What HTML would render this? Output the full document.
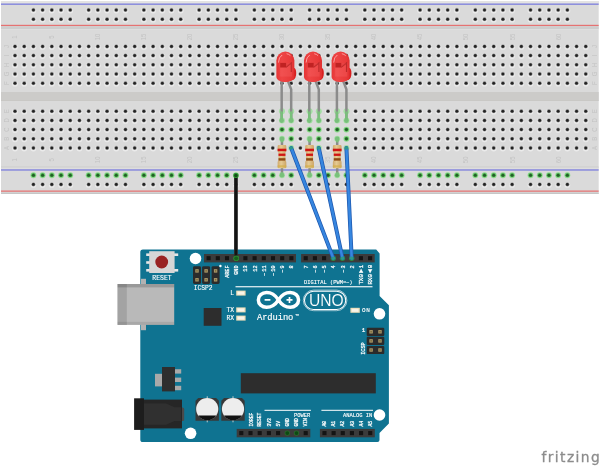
<!DOCTYPE html>
<html lang="en"><head><meta charset="utf-8"><title>Arduino LED breadboard</title>
<style>
html,body{margin:0;padding:0;background:#fff;}
body{width:600px;height:467px;overflow:hidden;}
svg{display:block;filter:blur(0.45px);}
.mono{font-family:"Liberation Mono","DejaVu Sans Mono",monospace;}
.sans{font-family:"Liberation Sans","DejaVu Sans",sans-serif;}
.bl{font-family:"Liberation Sans","DejaVu Sans",sans-serif;font-size:7.0px;fill:#c3c3c3;}
.pl{font-family:"Liberation Mono","DejaVu Sans Mono",monospace;font-size:5.9px;fill:#fff;stroke:#fff;stroke-width:0.24px;}
</style></head><body>
<svg width="600" height="467" viewBox="0 0 600 467">
<defs>
<g id="h"><circle cy="0.5" r="2.9" fill="#ebebeb"/><circle cy="-0.2" r="2.2" fill="#bdbdbd"/><circle cy="0" r="1.75" fill="#6a6a6a"/><circle cy="0" r="1.3" fill="#222222"/></g>
<g id="g"><circle r="2.95" fill="#8fdc8f"/><circle r="2.15" fill="#52b055"/><circle r="1.5" fill="#235f27"/></g>
<g id="o"><circle r="3.0" fill="#a4e0a4"/></g>
<linearGradient id="ledg" x1="0" x2="1" y1="0" y2="0"><stop offset="0" stop-color="#e63636"/><stop offset="0.3" stop-color="#ee4545"/><stop offset="0.8" stop-color="#e83a3a"/><stop offset="1" stop-color="#e03030"/></linearGradient>
<linearGradient id="resg" x1="0" x2="1" y1="0" y2="0"><stop offset="0" stop-color="#cfa96c"/><stop offset="0.4" stop-color="#e6cb93"/><stop offset="1" stop-color="#cda566"/></linearGradient>
</defs>
<rect width="600" height="467" fill="#ffffff"/>
<g id="breadboard">
<rect x="1" y="1.0" width="597.7" height="193.0" fill="#dadada"/>
<rect x="1" y="1.0" width="597.7" height="2.4" fill="#e3e3e3"/>
<rect x="1" y="192.6" width="597.7" height="1.4" fill="#c6c6c6"/>
<rect x="1" y="26.4" width="597.7" height="2.6" fill="#cdcdcd"/>
<rect x="1" y="29.0" width="597.7" height="0.7" fill="#e0e0e0"/>
<rect x="1" y="166.7" width="597.7" height="0.9" fill="#c4c4c4"/>
<rect x="1" y="167.6" width="597.7" height="0.7" fill="#e3e3e3"/>
<rect x="1" y="92.0" width="597.7" height="8.8" fill="#cccbc9"/>
<rect x="1" y="100.3" width="597.7" height="0.6" fill="#c4c4c2"/>
<rect x="1" y="3.5" width="597.7" height="1.35" fill="#8082de"/>
<rect x="1" y="24.8" width="597.7" height="1.25" fill="#e57272"/>
<rect x="1" y="169.3" width="597.7" height="1.35" fill="#8082de"/>
<rect x="1" y="190.5" width="597.7" height="1.25" fill="#e57272"/>
<text class="bl" transform="translate(17.40,37.0) rotate(-90) scale(0.86,1)" text-anchor="middle">1</text>
<text class="bl" transform="translate(17.40,159.8) rotate(-90) scale(0.86,1)" text-anchor="middle">1</text>
<text class="bl" transform="translate(54.22,37.0) rotate(-90) scale(0.86,1)" text-anchor="middle">5</text>
<text class="bl" transform="translate(54.22,159.8) rotate(-90) scale(0.86,1)" text-anchor="middle">5</text>
<text class="bl" transform="translate(100.25,37.0) rotate(-90) scale(0.86,1)" text-anchor="middle">10</text>
<text class="bl" transform="translate(100.25,159.8) rotate(-90) scale(0.86,1)" text-anchor="middle">10</text>
<text class="bl" transform="translate(146.28,37.0) rotate(-90) scale(0.86,1)" text-anchor="middle">15</text>
<text class="bl" transform="translate(146.28,159.8) rotate(-90) scale(0.86,1)" text-anchor="middle">15</text>
<text class="bl" transform="translate(192.31,37.0) rotate(-90) scale(0.86,1)" text-anchor="middle">20</text>
<text class="bl" transform="translate(192.31,159.8) rotate(-90) scale(0.86,1)" text-anchor="middle">20</text>
<text class="bl" transform="translate(238.34,37.0) rotate(-90) scale(0.86,1)" text-anchor="middle">25</text>
<text class="bl" transform="translate(238.34,159.8) rotate(-90) scale(0.86,1)" text-anchor="middle">25</text>
<text class="bl" transform="translate(284.37,37.0) rotate(-90) scale(0.86,1)" text-anchor="middle">30</text>
<text class="bl" transform="translate(284.37,159.8) rotate(-90) scale(0.86,1)" text-anchor="middle">30</text>
<text class="bl" transform="translate(330.40,37.0) rotate(-90) scale(0.86,1)" text-anchor="middle">35</text>
<text class="bl" transform="translate(330.40,159.8) rotate(-90) scale(0.86,1)" text-anchor="middle">35</text>
<text class="bl" transform="translate(376.43,37.0) rotate(-90) scale(0.86,1)" text-anchor="middle">40</text>
<text class="bl" transform="translate(376.43,159.8) rotate(-90) scale(0.86,1)" text-anchor="middle">40</text>
<text class="bl" transform="translate(422.46,37.0) rotate(-90) scale(0.86,1)" text-anchor="middle">45</text>
<text class="bl" transform="translate(422.46,159.8) rotate(-90) scale(0.86,1)" text-anchor="middle">45</text>
<text class="bl" transform="translate(468.49,37.0) rotate(-90) scale(0.86,1)" text-anchor="middle">50</text>
<text class="bl" transform="translate(468.49,159.8) rotate(-90) scale(0.86,1)" text-anchor="middle">50</text>
<text class="bl" transform="translate(514.52,37.0) rotate(-90) scale(0.86,1)" text-anchor="middle">55</text>
<text class="bl" transform="translate(514.52,159.8) rotate(-90) scale(0.86,1)" text-anchor="middle">55</text>
<text class="bl" transform="translate(560.55,37.0) rotate(-90) scale(0.86,1)" text-anchor="middle">60</text>
<text class="bl" transform="translate(560.55,159.8) rotate(-90) scale(0.86,1)" text-anchor="middle">60</text>
<text class="bl" transform="translate(9.3,46.4) rotate(-90) scale(0.86,1)" text-anchor="middle">J</text>
<text class="bl" transform="translate(597.0,46.4) rotate(-90) scale(0.86,1)" text-anchor="middle">J</text>
<text class="bl" transform="translate(9.3,55.6) rotate(-90) scale(0.86,1)" text-anchor="middle">I</text>
<text class="bl" transform="translate(597.0,55.6) rotate(-90) scale(0.86,1)" text-anchor="middle">I</text>
<text class="bl" transform="translate(9.3,64.8) rotate(-90) scale(0.86,1)" text-anchor="middle">H</text>
<text class="bl" transform="translate(597.0,64.8) rotate(-90) scale(0.86,1)" text-anchor="middle">H</text>
<text class="bl" transform="translate(9.3,74.0) rotate(-90) scale(0.86,1)" text-anchor="middle">G</text>
<text class="bl" transform="translate(597.0,74.0) rotate(-90) scale(0.86,1)" text-anchor="middle">G</text>
<text class="bl" transform="translate(9.3,83.2) rotate(-90) scale(0.86,1)" text-anchor="middle">F</text>
<text class="bl" transform="translate(597.0,83.2) rotate(-90) scale(0.86,1)" text-anchor="middle">F</text>
<text class="bl" transform="translate(9.3,111.2) rotate(-90) scale(0.86,1)" text-anchor="middle">E</text>
<text class="bl" transform="translate(597.0,111.2) rotate(-90) scale(0.86,1)" text-anchor="middle">E</text>
<text class="bl" transform="translate(9.3,120.4) rotate(-90) scale(0.86,1)" text-anchor="middle">D</text>
<text class="bl" transform="translate(597.0,120.4) rotate(-90) scale(0.86,1)" text-anchor="middle">D</text>
<text class="bl" transform="translate(9.3,129.6) rotate(-90) scale(0.86,1)" text-anchor="middle">C</text>
<text class="bl" transform="translate(597.0,129.6) rotate(-90) scale(0.86,1)" text-anchor="middle">C</text>
<text class="bl" transform="translate(9.3,138.8) rotate(-90) scale(0.86,1)" text-anchor="middle">B</text>
<text class="bl" transform="translate(597.0,138.8) rotate(-90) scale(0.86,1)" text-anchor="middle">B</text>
<text class="bl" transform="translate(9.3,148.0) rotate(-90) scale(0.86,1)" text-anchor="middle">A</text>
<text class="bl" transform="translate(597.0,148.0) rotate(-90) scale(0.86,1)" text-anchor="middle">A</text>
<use href="#h" x="15.00" y="46.4"/>
<use href="#h" x="24.21" y="46.4"/>
<use href="#h" x="33.41" y="46.4"/>
<use href="#h" x="42.62" y="46.4"/>
<use href="#h" x="51.82" y="46.4"/>
<use href="#h" x="61.03" y="46.4"/>
<use href="#h" x="70.24" y="46.4"/>
<use href="#h" x="79.44" y="46.4"/>
<use href="#h" x="88.65" y="46.4"/>
<use href="#h" x="97.85" y="46.4"/>
<use href="#h" x="107.06" y="46.4"/>
<use href="#h" x="116.27" y="46.4"/>
<use href="#h" x="125.47" y="46.4"/>
<use href="#h" x="134.68" y="46.4"/>
<use href="#h" x="143.88" y="46.4"/>
<use href="#h" x="153.09" y="46.4"/>
<use href="#h" x="162.30" y="46.4"/>
<use href="#h" x="171.50" y="46.4"/>
<use href="#h" x="180.71" y="46.4"/>
<use href="#h" x="189.91" y="46.4"/>
<use href="#h" x="199.12" y="46.4"/>
<use href="#h" x="208.33" y="46.4"/>
<use href="#h" x="217.53" y="46.4"/>
<use href="#h" x="226.74" y="46.4"/>
<use href="#h" x="235.94" y="46.4"/>
<use href="#h" x="245.15" y="46.4"/>
<use href="#h" x="254.36" y="46.4"/>
<use href="#h" x="263.56" y="46.4"/>
<use href="#h" x="272.77" y="46.4"/>
<use href="#h" x="281.97" y="46.4"/>
<use href="#h" x="291.18" y="46.4"/>
<use href="#h" x="300.39" y="46.4"/>
<use href="#h" x="309.59" y="46.4"/>
<use href="#h" x="318.80" y="46.4"/>
<use href="#h" x="328.00" y="46.4"/>
<use href="#h" x="337.21" y="46.4"/>
<use href="#h" x="346.42" y="46.4"/>
<use href="#h" x="355.62" y="46.4"/>
<use href="#h" x="364.83" y="46.4"/>
<use href="#h" x="374.03" y="46.4"/>
<use href="#h" x="383.24" y="46.4"/>
<use href="#h" x="392.45" y="46.4"/>
<use href="#h" x="401.65" y="46.4"/>
<use href="#h" x="410.86" y="46.4"/>
<use href="#h" x="420.06" y="46.4"/>
<use href="#h" x="429.27" y="46.4"/>
<use href="#h" x="438.48" y="46.4"/>
<use href="#h" x="447.68" y="46.4"/>
<use href="#h" x="456.89" y="46.4"/>
<use href="#h" x="466.09" y="46.4"/>
<use href="#h" x="475.30" y="46.4"/>
<use href="#h" x="484.51" y="46.4"/>
<use href="#h" x="493.71" y="46.4"/>
<use href="#h" x="502.92" y="46.4"/>
<use href="#h" x="512.12" y="46.4"/>
<use href="#h" x="521.33" y="46.4"/>
<use href="#h" x="530.54" y="46.4"/>
<use href="#h" x="539.74" y="46.4"/>
<use href="#h" x="548.95" y="46.4"/>
<use href="#h" x="558.15" y="46.4"/>
<use href="#h" x="567.36" y="46.4"/>
<use href="#h" x="576.57" y="46.4"/>
<use href="#h" x="585.77" y="46.4"/>
<use href="#h" x="15.00" y="55.6"/>
<use href="#h" x="24.21" y="55.6"/>
<use href="#h" x="33.41" y="55.6"/>
<use href="#h" x="42.62" y="55.6"/>
<use href="#h" x="51.82" y="55.6"/>
<use href="#h" x="61.03" y="55.6"/>
<use href="#h" x="70.24" y="55.6"/>
<use href="#h" x="79.44" y="55.6"/>
<use href="#h" x="88.65" y="55.6"/>
<use href="#h" x="97.85" y="55.6"/>
<use href="#h" x="107.06" y="55.6"/>
<use href="#h" x="116.27" y="55.6"/>
<use href="#h" x="125.47" y="55.6"/>
<use href="#h" x="134.68" y="55.6"/>
<use href="#h" x="143.88" y="55.6"/>
<use href="#h" x="153.09" y="55.6"/>
<use href="#h" x="162.30" y="55.6"/>
<use href="#h" x="171.50" y="55.6"/>
<use href="#h" x="180.71" y="55.6"/>
<use href="#h" x="189.91" y="55.6"/>
<use href="#h" x="199.12" y="55.6"/>
<use href="#h" x="208.33" y="55.6"/>
<use href="#h" x="217.53" y="55.6"/>
<use href="#h" x="226.74" y="55.6"/>
<use href="#h" x="235.94" y="55.6"/>
<use href="#h" x="245.15" y="55.6"/>
<use href="#h" x="254.36" y="55.6"/>
<use href="#h" x="263.56" y="55.6"/>
<use href="#h" x="272.77" y="55.6"/>
<use href="#h" x="281.97" y="55.6"/>
<use href="#h" x="291.18" y="55.6"/>
<use href="#h" x="300.39" y="55.6"/>
<use href="#h" x="309.59" y="55.6"/>
<use href="#h" x="318.80" y="55.6"/>
<use href="#h" x="328.00" y="55.6"/>
<use href="#h" x="337.21" y="55.6"/>
<use href="#h" x="346.42" y="55.6"/>
<use href="#h" x="355.62" y="55.6"/>
<use href="#h" x="364.83" y="55.6"/>
<use href="#h" x="374.03" y="55.6"/>
<use href="#h" x="383.24" y="55.6"/>
<use href="#h" x="392.45" y="55.6"/>
<use href="#h" x="401.65" y="55.6"/>
<use href="#h" x="410.86" y="55.6"/>
<use href="#h" x="420.06" y="55.6"/>
<use href="#h" x="429.27" y="55.6"/>
<use href="#h" x="438.48" y="55.6"/>
<use href="#h" x="447.68" y="55.6"/>
<use href="#h" x="456.89" y="55.6"/>
<use href="#h" x="466.09" y="55.6"/>
<use href="#h" x="475.30" y="55.6"/>
<use href="#h" x="484.51" y="55.6"/>
<use href="#h" x="493.71" y="55.6"/>
<use href="#h" x="502.92" y="55.6"/>
<use href="#h" x="512.12" y="55.6"/>
<use href="#h" x="521.33" y="55.6"/>
<use href="#h" x="530.54" y="55.6"/>
<use href="#h" x="539.74" y="55.6"/>
<use href="#h" x="548.95" y="55.6"/>
<use href="#h" x="558.15" y="55.6"/>
<use href="#h" x="567.36" y="55.6"/>
<use href="#h" x="576.57" y="55.6"/>
<use href="#h" x="585.77" y="55.6"/>
<use href="#h" x="15.00" y="64.8"/>
<use href="#h" x="24.21" y="64.8"/>
<use href="#h" x="33.41" y="64.8"/>
<use href="#h" x="42.62" y="64.8"/>
<use href="#h" x="51.82" y="64.8"/>
<use href="#h" x="61.03" y="64.8"/>
<use href="#h" x="70.24" y="64.8"/>
<use href="#h" x="79.44" y="64.8"/>
<use href="#h" x="88.65" y="64.8"/>
<use href="#h" x="97.85" y="64.8"/>
<use href="#h" x="107.06" y="64.8"/>
<use href="#h" x="116.27" y="64.8"/>
<use href="#h" x="125.47" y="64.8"/>
<use href="#h" x="134.68" y="64.8"/>
<use href="#h" x="143.88" y="64.8"/>
<use href="#h" x="153.09" y="64.8"/>
<use href="#h" x="162.30" y="64.8"/>
<use href="#h" x="171.50" y="64.8"/>
<use href="#h" x="180.71" y="64.8"/>
<use href="#h" x="189.91" y="64.8"/>
<use href="#h" x="199.12" y="64.8"/>
<use href="#h" x="208.33" y="64.8"/>
<use href="#h" x="217.53" y="64.8"/>
<use href="#h" x="226.74" y="64.8"/>
<use href="#h" x="235.94" y="64.8"/>
<use href="#h" x="245.15" y="64.8"/>
<use href="#h" x="254.36" y="64.8"/>
<use href="#h" x="263.56" y="64.8"/>
<use href="#h" x="272.77" y="64.8"/>
<use href="#h" x="281.97" y="64.8"/>
<use href="#h" x="291.18" y="64.8"/>
<use href="#h" x="300.39" y="64.8"/>
<use href="#h" x="309.59" y="64.8"/>
<use href="#h" x="318.80" y="64.8"/>
<use href="#h" x="328.00" y="64.8"/>
<use href="#h" x="337.21" y="64.8"/>
<use href="#h" x="346.42" y="64.8"/>
<use href="#h" x="355.62" y="64.8"/>
<use href="#h" x="364.83" y="64.8"/>
<use href="#h" x="374.03" y="64.8"/>
<use href="#h" x="383.24" y="64.8"/>
<use href="#h" x="392.45" y="64.8"/>
<use href="#h" x="401.65" y="64.8"/>
<use href="#h" x="410.86" y="64.8"/>
<use href="#h" x="420.06" y="64.8"/>
<use href="#h" x="429.27" y="64.8"/>
<use href="#h" x="438.48" y="64.8"/>
<use href="#h" x="447.68" y="64.8"/>
<use href="#h" x="456.89" y="64.8"/>
<use href="#h" x="466.09" y="64.8"/>
<use href="#h" x="475.30" y="64.8"/>
<use href="#h" x="484.51" y="64.8"/>
<use href="#h" x="493.71" y="64.8"/>
<use href="#h" x="502.92" y="64.8"/>
<use href="#h" x="512.12" y="64.8"/>
<use href="#h" x="521.33" y="64.8"/>
<use href="#h" x="530.54" y="64.8"/>
<use href="#h" x="539.74" y="64.8"/>
<use href="#h" x="548.95" y="64.8"/>
<use href="#h" x="558.15" y="64.8"/>
<use href="#h" x="567.36" y="64.8"/>
<use href="#h" x="576.57" y="64.8"/>
<use href="#h" x="585.77" y="64.8"/>
<use href="#h" x="15.00" y="74.0"/>
<use href="#h" x="24.21" y="74.0"/>
<use href="#h" x="33.41" y="74.0"/>
<use href="#h" x="42.62" y="74.0"/>
<use href="#h" x="51.82" y="74.0"/>
<use href="#h" x="61.03" y="74.0"/>
<use href="#h" x="70.24" y="74.0"/>
<use href="#h" x="79.44" y="74.0"/>
<use href="#h" x="88.65" y="74.0"/>
<use href="#h" x="97.85" y="74.0"/>
<use href="#h" x="107.06" y="74.0"/>
<use href="#h" x="116.27" y="74.0"/>
<use href="#h" x="125.47" y="74.0"/>
<use href="#h" x="134.68" y="74.0"/>
<use href="#h" x="143.88" y="74.0"/>
<use href="#h" x="153.09" y="74.0"/>
<use href="#h" x="162.30" y="74.0"/>
<use href="#h" x="171.50" y="74.0"/>
<use href="#h" x="180.71" y="74.0"/>
<use href="#h" x="189.91" y="74.0"/>
<use href="#h" x="199.12" y="74.0"/>
<use href="#h" x="208.33" y="74.0"/>
<use href="#h" x="217.53" y="74.0"/>
<use href="#h" x="226.74" y="74.0"/>
<use href="#h" x="235.94" y="74.0"/>
<use href="#h" x="245.15" y="74.0"/>
<use href="#h" x="254.36" y="74.0"/>
<use href="#h" x="263.56" y="74.0"/>
<use href="#h" x="272.77" y="74.0"/>
<use href="#h" x="281.97" y="74.0"/>
<use href="#h" x="291.18" y="74.0"/>
<use href="#h" x="300.39" y="74.0"/>
<use href="#h" x="309.59" y="74.0"/>
<use href="#h" x="318.80" y="74.0"/>
<use href="#h" x="328.00" y="74.0"/>
<use href="#h" x="337.21" y="74.0"/>
<use href="#h" x="346.42" y="74.0"/>
<use href="#h" x="355.62" y="74.0"/>
<use href="#h" x="364.83" y="74.0"/>
<use href="#h" x="374.03" y="74.0"/>
<use href="#h" x="383.24" y="74.0"/>
<use href="#h" x="392.45" y="74.0"/>
<use href="#h" x="401.65" y="74.0"/>
<use href="#h" x="410.86" y="74.0"/>
<use href="#h" x="420.06" y="74.0"/>
<use href="#h" x="429.27" y="74.0"/>
<use href="#h" x="438.48" y="74.0"/>
<use href="#h" x="447.68" y="74.0"/>
<use href="#h" x="456.89" y="74.0"/>
<use href="#h" x="466.09" y="74.0"/>
<use href="#h" x="475.30" y="74.0"/>
<use href="#h" x="484.51" y="74.0"/>
<use href="#h" x="493.71" y="74.0"/>
<use href="#h" x="502.92" y="74.0"/>
<use href="#h" x="512.12" y="74.0"/>
<use href="#h" x="521.33" y="74.0"/>
<use href="#h" x="530.54" y="74.0"/>
<use href="#h" x="539.74" y="74.0"/>
<use href="#h" x="548.95" y="74.0"/>
<use href="#h" x="558.15" y="74.0"/>
<use href="#h" x="567.36" y="74.0"/>
<use href="#h" x="576.57" y="74.0"/>
<use href="#h" x="585.77" y="74.0"/>
<use href="#h" x="15.00" y="83.2"/>
<use href="#h" x="24.21" y="83.2"/>
<use href="#h" x="33.41" y="83.2"/>
<use href="#h" x="42.62" y="83.2"/>
<use href="#h" x="51.82" y="83.2"/>
<use href="#h" x="61.03" y="83.2"/>
<use href="#h" x="70.24" y="83.2"/>
<use href="#h" x="79.44" y="83.2"/>
<use href="#h" x="88.65" y="83.2"/>
<use href="#h" x="97.85" y="83.2"/>
<use href="#h" x="107.06" y="83.2"/>
<use href="#h" x="116.27" y="83.2"/>
<use href="#h" x="125.47" y="83.2"/>
<use href="#h" x="134.68" y="83.2"/>
<use href="#h" x="143.88" y="83.2"/>
<use href="#h" x="153.09" y="83.2"/>
<use href="#h" x="162.30" y="83.2"/>
<use href="#h" x="171.50" y="83.2"/>
<use href="#h" x="180.71" y="83.2"/>
<use href="#h" x="189.91" y="83.2"/>
<use href="#h" x="199.12" y="83.2"/>
<use href="#h" x="208.33" y="83.2"/>
<use href="#h" x="217.53" y="83.2"/>
<use href="#h" x="226.74" y="83.2"/>
<use href="#h" x="235.94" y="83.2"/>
<use href="#h" x="245.15" y="83.2"/>
<use href="#h" x="254.36" y="83.2"/>
<use href="#h" x="263.56" y="83.2"/>
<use href="#h" x="272.77" y="83.2"/>
<use href="#h" x="281.97" y="83.2"/>
<use href="#h" x="291.18" y="83.2"/>
<use href="#h" x="300.39" y="83.2"/>
<use href="#h" x="309.59" y="83.2"/>
<use href="#h" x="318.80" y="83.2"/>
<use href="#h" x="328.00" y="83.2"/>
<use href="#h" x="337.21" y="83.2"/>
<use href="#h" x="346.42" y="83.2"/>
<use href="#h" x="355.62" y="83.2"/>
<use href="#h" x="364.83" y="83.2"/>
<use href="#h" x="374.03" y="83.2"/>
<use href="#h" x="383.24" y="83.2"/>
<use href="#h" x="392.45" y="83.2"/>
<use href="#h" x="401.65" y="83.2"/>
<use href="#h" x="410.86" y="83.2"/>
<use href="#h" x="420.06" y="83.2"/>
<use href="#h" x="429.27" y="83.2"/>
<use href="#h" x="438.48" y="83.2"/>
<use href="#h" x="447.68" y="83.2"/>
<use href="#h" x="456.89" y="83.2"/>
<use href="#h" x="466.09" y="83.2"/>
<use href="#h" x="475.30" y="83.2"/>
<use href="#h" x="484.51" y="83.2"/>
<use href="#h" x="493.71" y="83.2"/>
<use href="#h" x="502.92" y="83.2"/>
<use href="#h" x="512.12" y="83.2"/>
<use href="#h" x="521.33" y="83.2"/>
<use href="#h" x="530.54" y="83.2"/>
<use href="#h" x="539.74" y="83.2"/>
<use href="#h" x="548.95" y="83.2"/>
<use href="#h" x="558.15" y="83.2"/>
<use href="#h" x="567.36" y="83.2"/>
<use href="#h" x="576.57" y="83.2"/>
<use href="#h" x="585.77" y="83.2"/>
<use href="#h" x="15.00" y="111.2"/>
<use href="#h" x="24.21" y="111.2"/>
<use href="#h" x="33.41" y="111.2"/>
<use href="#h" x="42.62" y="111.2"/>
<use href="#h" x="51.82" y="111.2"/>
<use href="#h" x="61.03" y="111.2"/>
<use href="#h" x="70.24" y="111.2"/>
<use href="#h" x="79.44" y="111.2"/>
<use href="#h" x="88.65" y="111.2"/>
<use href="#h" x="97.85" y="111.2"/>
<use href="#h" x="107.06" y="111.2"/>
<use href="#h" x="116.27" y="111.2"/>
<use href="#h" x="125.47" y="111.2"/>
<use href="#h" x="134.68" y="111.2"/>
<use href="#h" x="143.88" y="111.2"/>
<use href="#h" x="153.09" y="111.2"/>
<use href="#h" x="162.30" y="111.2"/>
<use href="#h" x="171.50" y="111.2"/>
<use href="#h" x="180.71" y="111.2"/>
<use href="#h" x="189.91" y="111.2"/>
<use href="#h" x="199.12" y="111.2"/>
<use href="#h" x="208.33" y="111.2"/>
<use href="#h" x="217.53" y="111.2"/>
<use href="#h" x="226.74" y="111.2"/>
<use href="#h" x="235.94" y="111.2"/>
<use href="#h" x="245.15" y="111.2"/>
<use href="#h" x="254.36" y="111.2"/>
<use href="#h" x="263.56" y="111.2"/>
<use href="#h" x="272.77" y="111.2"/>
<use href="#o" x="281.97" y="111.2"/>
<use href="#o" x="291.18" y="111.2"/>
<use href="#h" x="300.39" y="111.2"/>
<use href="#o" x="309.59" y="111.2"/>
<use href="#o" x="318.80" y="111.2"/>
<use href="#h" x="328.00" y="111.2"/>
<use href="#o" x="337.21" y="111.2"/>
<use href="#o" x="346.42" y="111.2"/>
<use href="#h" x="355.62" y="111.2"/>
<use href="#h" x="364.83" y="111.2"/>
<use href="#h" x="374.03" y="111.2"/>
<use href="#h" x="383.24" y="111.2"/>
<use href="#h" x="392.45" y="111.2"/>
<use href="#h" x="401.65" y="111.2"/>
<use href="#h" x="410.86" y="111.2"/>
<use href="#h" x="420.06" y="111.2"/>
<use href="#h" x="429.27" y="111.2"/>
<use href="#h" x="438.48" y="111.2"/>
<use href="#h" x="447.68" y="111.2"/>
<use href="#h" x="456.89" y="111.2"/>
<use href="#h" x="466.09" y="111.2"/>
<use href="#h" x="475.30" y="111.2"/>
<use href="#h" x="484.51" y="111.2"/>
<use href="#h" x="493.71" y="111.2"/>
<use href="#h" x="502.92" y="111.2"/>
<use href="#h" x="512.12" y="111.2"/>
<use href="#h" x="521.33" y="111.2"/>
<use href="#h" x="530.54" y="111.2"/>
<use href="#h" x="539.74" y="111.2"/>
<use href="#h" x="548.95" y="111.2"/>
<use href="#h" x="558.15" y="111.2"/>
<use href="#h" x="567.36" y="111.2"/>
<use href="#h" x="576.57" y="111.2"/>
<use href="#h" x="585.77" y="111.2"/>
<use href="#h" x="15.00" y="120.4"/>
<use href="#h" x="24.21" y="120.4"/>
<use href="#h" x="33.41" y="120.4"/>
<use href="#h" x="42.62" y="120.4"/>
<use href="#h" x="51.82" y="120.4"/>
<use href="#h" x="61.03" y="120.4"/>
<use href="#h" x="70.24" y="120.4"/>
<use href="#h" x="79.44" y="120.4"/>
<use href="#h" x="88.65" y="120.4"/>
<use href="#h" x="97.85" y="120.4"/>
<use href="#h" x="107.06" y="120.4"/>
<use href="#h" x="116.27" y="120.4"/>
<use href="#h" x="125.47" y="120.4"/>
<use href="#h" x="134.68" y="120.4"/>
<use href="#h" x="143.88" y="120.4"/>
<use href="#h" x="153.09" y="120.4"/>
<use href="#h" x="162.30" y="120.4"/>
<use href="#h" x="171.50" y="120.4"/>
<use href="#h" x="180.71" y="120.4"/>
<use href="#h" x="189.91" y="120.4"/>
<use href="#h" x="199.12" y="120.4"/>
<use href="#h" x="208.33" y="120.4"/>
<use href="#h" x="217.53" y="120.4"/>
<use href="#h" x="226.74" y="120.4"/>
<use href="#h" x="235.94" y="120.4"/>
<use href="#h" x="245.15" y="120.4"/>
<use href="#h" x="254.36" y="120.4"/>
<use href="#h" x="263.56" y="120.4"/>
<use href="#h" x="272.77" y="120.4"/>
<use href="#o" x="281.97" y="120.4"/>
<use href="#o" x="291.18" y="120.4"/>
<use href="#h" x="300.39" y="120.4"/>
<use href="#o" x="309.59" y="120.4"/>
<use href="#o" x="318.80" y="120.4"/>
<use href="#h" x="328.00" y="120.4"/>
<use href="#o" x="337.21" y="120.4"/>
<use href="#o" x="346.42" y="120.4"/>
<use href="#h" x="355.62" y="120.4"/>
<use href="#h" x="364.83" y="120.4"/>
<use href="#h" x="374.03" y="120.4"/>
<use href="#h" x="383.24" y="120.4"/>
<use href="#h" x="392.45" y="120.4"/>
<use href="#h" x="401.65" y="120.4"/>
<use href="#h" x="410.86" y="120.4"/>
<use href="#h" x="420.06" y="120.4"/>
<use href="#h" x="429.27" y="120.4"/>
<use href="#h" x="438.48" y="120.4"/>
<use href="#h" x="447.68" y="120.4"/>
<use href="#h" x="456.89" y="120.4"/>
<use href="#h" x="466.09" y="120.4"/>
<use href="#h" x="475.30" y="120.4"/>
<use href="#h" x="484.51" y="120.4"/>
<use href="#h" x="493.71" y="120.4"/>
<use href="#h" x="502.92" y="120.4"/>
<use href="#h" x="512.12" y="120.4"/>
<use href="#h" x="521.33" y="120.4"/>
<use href="#h" x="530.54" y="120.4"/>
<use href="#h" x="539.74" y="120.4"/>
<use href="#h" x="548.95" y="120.4"/>
<use href="#h" x="558.15" y="120.4"/>
<use href="#h" x="567.36" y="120.4"/>
<use href="#h" x="576.57" y="120.4"/>
<use href="#h" x="585.77" y="120.4"/>
<use href="#h" x="15.00" y="129.6"/>
<use href="#h" x="24.21" y="129.6"/>
<use href="#h" x="33.41" y="129.6"/>
<use href="#h" x="42.62" y="129.6"/>
<use href="#h" x="51.82" y="129.6"/>
<use href="#h" x="61.03" y="129.6"/>
<use href="#h" x="70.24" y="129.6"/>
<use href="#h" x="79.44" y="129.6"/>
<use href="#h" x="88.65" y="129.6"/>
<use href="#h" x="97.85" y="129.6"/>
<use href="#h" x="107.06" y="129.6"/>
<use href="#h" x="116.27" y="129.6"/>
<use href="#h" x="125.47" y="129.6"/>
<use href="#h" x="134.68" y="129.6"/>
<use href="#h" x="143.88" y="129.6"/>
<use href="#h" x="153.09" y="129.6"/>
<use href="#h" x="162.30" y="129.6"/>
<use href="#h" x="171.50" y="129.6"/>
<use href="#h" x="180.71" y="129.6"/>
<use href="#h" x="189.91" y="129.6"/>
<use href="#h" x="199.12" y="129.6"/>
<use href="#h" x="208.33" y="129.6"/>
<use href="#h" x="217.53" y="129.6"/>
<use href="#h" x="226.74" y="129.6"/>
<use href="#h" x="235.94" y="129.6"/>
<use href="#h" x="245.15" y="129.6"/>
<use href="#h" x="254.36" y="129.6"/>
<use href="#h" x="263.56" y="129.6"/>
<use href="#h" x="272.77" y="129.6"/>
<use href="#g" x="281.97" y="129.6"/>
<use href="#g" x="291.18" y="129.6"/>
<use href="#h" x="300.39" y="129.6"/>
<use href="#g" x="309.59" y="129.6"/>
<use href="#g" x="318.80" y="129.6"/>
<use href="#h" x="328.00" y="129.6"/>
<use href="#g" x="337.21" y="129.6"/>
<use href="#g" x="346.42" y="129.6"/>
<use href="#h" x="355.62" y="129.6"/>
<use href="#h" x="364.83" y="129.6"/>
<use href="#h" x="374.03" y="129.6"/>
<use href="#h" x="383.24" y="129.6"/>
<use href="#h" x="392.45" y="129.6"/>
<use href="#h" x="401.65" y="129.6"/>
<use href="#h" x="410.86" y="129.6"/>
<use href="#h" x="420.06" y="129.6"/>
<use href="#h" x="429.27" y="129.6"/>
<use href="#h" x="438.48" y="129.6"/>
<use href="#h" x="447.68" y="129.6"/>
<use href="#h" x="456.89" y="129.6"/>
<use href="#h" x="466.09" y="129.6"/>
<use href="#h" x="475.30" y="129.6"/>
<use href="#h" x="484.51" y="129.6"/>
<use href="#h" x="493.71" y="129.6"/>
<use href="#h" x="502.92" y="129.6"/>
<use href="#h" x="512.12" y="129.6"/>
<use href="#h" x="521.33" y="129.6"/>
<use href="#h" x="530.54" y="129.6"/>
<use href="#h" x="539.74" y="129.6"/>
<use href="#h" x="548.95" y="129.6"/>
<use href="#h" x="558.15" y="129.6"/>
<use href="#h" x="567.36" y="129.6"/>
<use href="#h" x="576.57" y="129.6"/>
<use href="#h" x="585.77" y="129.6"/>
<use href="#h" x="15.00" y="138.8"/>
<use href="#h" x="24.21" y="138.8"/>
<use href="#h" x="33.41" y="138.8"/>
<use href="#h" x="42.62" y="138.8"/>
<use href="#h" x="51.82" y="138.8"/>
<use href="#h" x="61.03" y="138.8"/>
<use href="#h" x="70.24" y="138.8"/>
<use href="#h" x="79.44" y="138.8"/>
<use href="#h" x="88.65" y="138.8"/>
<use href="#h" x="97.85" y="138.8"/>
<use href="#h" x="107.06" y="138.8"/>
<use href="#h" x="116.27" y="138.8"/>
<use href="#h" x="125.47" y="138.8"/>
<use href="#h" x="134.68" y="138.8"/>
<use href="#h" x="143.88" y="138.8"/>
<use href="#h" x="153.09" y="138.8"/>
<use href="#h" x="162.30" y="138.8"/>
<use href="#h" x="171.50" y="138.8"/>
<use href="#h" x="180.71" y="138.8"/>
<use href="#h" x="189.91" y="138.8"/>
<use href="#h" x="199.12" y="138.8"/>
<use href="#h" x="208.33" y="138.8"/>
<use href="#h" x="217.53" y="138.8"/>
<use href="#h" x="226.74" y="138.8"/>
<use href="#h" x="235.94" y="138.8"/>
<use href="#h" x="245.15" y="138.8"/>
<use href="#h" x="254.36" y="138.8"/>
<use href="#h" x="263.56" y="138.8"/>
<use href="#h" x="272.77" y="138.8"/>
<use href="#o" x="281.97" y="138.8"/>
<use href="#g" x="291.18" y="138.8"/>
<use href="#h" x="300.39" y="138.8"/>
<use href="#o" x="309.59" y="138.8"/>
<use href="#g" x="318.80" y="138.8"/>
<use href="#h" x="328.00" y="138.8"/>
<use href="#o" x="337.21" y="138.8"/>
<use href="#g" x="346.42" y="138.8"/>
<use href="#h" x="355.62" y="138.8"/>
<use href="#h" x="364.83" y="138.8"/>
<use href="#h" x="374.03" y="138.8"/>
<use href="#h" x="383.24" y="138.8"/>
<use href="#h" x="392.45" y="138.8"/>
<use href="#h" x="401.65" y="138.8"/>
<use href="#h" x="410.86" y="138.8"/>
<use href="#h" x="420.06" y="138.8"/>
<use href="#h" x="429.27" y="138.8"/>
<use href="#h" x="438.48" y="138.8"/>
<use href="#h" x="447.68" y="138.8"/>
<use href="#h" x="456.89" y="138.8"/>
<use href="#h" x="466.09" y="138.8"/>
<use href="#h" x="475.30" y="138.8"/>
<use href="#h" x="484.51" y="138.8"/>
<use href="#h" x="493.71" y="138.8"/>
<use href="#h" x="502.92" y="138.8"/>
<use href="#h" x="512.12" y="138.8"/>
<use href="#h" x="521.33" y="138.8"/>
<use href="#h" x="530.54" y="138.8"/>
<use href="#h" x="539.74" y="138.8"/>
<use href="#h" x="548.95" y="138.8"/>
<use href="#h" x="558.15" y="138.8"/>
<use href="#h" x="567.36" y="138.8"/>
<use href="#h" x="576.57" y="138.8"/>
<use href="#h" x="585.77" y="138.8"/>
<use href="#h" x="15.00" y="148.0"/>
<use href="#h" x="24.21" y="148.0"/>
<use href="#h" x="33.41" y="148.0"/>
<use href="#h" x="42.62" y="148.0"/>
<use href="#h" x="51.82" y="148.0"/>
<use href="#h" x="61.03" y="148.0"/>
<use href="#h" x="70.24" y="148.0"/>
<use href="#h" x="79.44" y="148.0"/>
<use href="#h" x="88.65" y="148.0"/>
<use href="#h" x="97.85" y="148.0"/>
<use href="#h" x="107.06" y="148.0"/>
<use href="#h" x="116.27" y="148.0"/>
<use href="#h" x="125.47" y="148.0"/>
<use href="#h" x="134.68" y="148.0"/>
<use href="#h" x="143.88" y="148.0"/>
<use href="#h" x="153.09" y="148.0"/>
<use href="#h" x="162.30" y="148.0"/>
<use href="#h" x="171.50" y="148.0"/>
<use href="#h" x="180.71" y="148.0"/>
<use href="#h" x="189.91" y="148.0"/>
<use href="#h" x="199.12" y="148.0"/>
<use href="#h" x="208.33" y="148.0"/>
<use href="#h" x="217.53" y="148.0"/>
<use href="#h" x="226.74" y="148.0"/>
<use href="#h" x="235.94" y="148.0"/>
<use href="#h" x="245.15" y="148.0"/>
<use href="#h" x="254.36" y="148.0"/>
<use href="#h" x="263.56" y="148.0"/>
<use href="#h" x="272.77" y="148.0"/>
<use href="#g" x="281.97" y="148.0"/>
<use href="#o" x="291.18" y="148.0"/>
<use href="#h" x="300.39" y="148.0"/>
<use href="#g" x="309.59" y="148.0"/>
<use href="#o" x="318.80" y="148.0"/>
<use href="#h" x="328.00" y="148.0"/>
<use href="#g" x="337.21" y="148.0"/>
<use href="#o" x="346.42" y="148.0"/>
<use href="#h" x="355.62" y="148.0"/>
<use href="#h" x="364.83" y="148.0"/>
<use href="#h" x="374.03" y="148.0"/>
<use href="#h" x="383.24" y="148.0"/>
<use href="#h" x="392.45" y="148.0"/>
<use href="#h" x="401.65" y="148.0"/>
<use href="#h" x="410.86" y="148.0"/>
<use href="#h" x="420.06" y="148.0"/>
<use href="#h" x="429.27" y="148.0"/>
<use href="#h" x="438.48" y="148.0"/>
<use href="#h" x="447.68" y="148.0"/>
<use href="#h" x="456.89" y="148.0"/>
<use href="#h" x="466.09" y="148.0"/>
<use href="#h" x="475.30" y="148.0"/>
<use href="#h" x="484.51" y="148.0"/>
<use href="#h" x="493.71" y="148.0"/>
<use href="#h" x="502.92" y="148.0"/>
<use href="#h" x="512.12" y="148.0"/>
<use href="#h" x="521.33" y="148.0"/>
<use href="#h" x="530.54" y="148.0"/>
<use href="#h" x="539.74" y="148.0"/>
<use href="#h" x="548.95" y="148.0"/>
<use href="#h" x="558.15" y="148.0"/>
<use href="#h" x="567.36" y="148.0"/>
<use href="#h" x="576.57" y="148.0"/>
<use href="#h" x="585.77" y="148.0"/>
<use href="#h" x="33.41" y="10.0"/>
<use href="#h" x="42.62" y="10.0"/>
<use href="#h" x="51.82" y="10.0"/>
<use href="#h" x="61.03" y="10.0"/>
<use href="#h" x="70.24" y="10.0"/>
<use href="#h" x="88.65" y="10.0"/>
<use href="#h" x="97.85" y="10.0"/>
<use href="#h" x="107.06" y="10.0"/>
<use href="#h" x="116.27" y="10.0"/>
<use href="#h" x="125.47" y="10.0"/>
<use href="#h" x="143.88" y="10.0"/>
<use href="#h" x="153.09" y="10.0"/>
<use href="#h" x="162.30" y="10.0"/>
<use href="#h" x="171.50" y="10.0"/>
<use href="#h" x="180.71" y="10.0"/>
<use href="#h" x="199.12" y="10.0"/>
<use href="#h" x="208.33" y="10.0"/>
<use href="#h" x="217.53" y="10.0"/>
<use href="#h" x="226.74" y="10.0"/>
<use href="#h" x="235.94" y="10.0"/>
<use href="#h" x="254.36" y="10.0"/>
<use href="#h" x="263.56" y="10.0"/>
<use href="#h" x="272.77" y="10.0"/>
<use href="#h" x="281.97" y="10.0"/>
<use href="#h" x="291.18" y="10.0"/>
<use href="#h" x="309.59" y="10.0"/>
<use href="#h" x="318.80" y="10.0"/>
<use href="#h" x="328.00" y="10.0"/>
<use href="#h" x="337.21" y="10.0"/>
<use href="#h" x="346.42" y="10.0"/>
<use href="#h" x="364.83" y="10.0"/>
<use href="#h" x="374.03" y="10.0"/>
<use href="#h" x="383.24" y="10.0"/>
<use href="#h" x="392.45" y="10.0"/>
<use href="#h" x="401.65" y="10.0"/>
<use href="#h" x="420.06" y="10.0"/>
<use href="#h" x="429.27" y="10.0"/>
<use href="#h" x="438.48" y="10.0"/>
<use href="#h" x="447.68" y="10.0"/>
<use href="#h" x="456.89" y="10.0"/>
<use href="#h" x="475.30" y="10.0"/>
<use href="#h" x="484.51" y="10.0"/>
<use href="#h" x="493.71" y="10.0"/>
<use href="#h" x="502.92" y="10.0"/>
<use href="#h" x="512.12" y="10.0"/>
<use href="#h" x="530.54" y="10.0"/>
<use href="#h" x="539.74" y="10.0"/>
<use href="#h" x="548.95" y="10.0"/>
<use href="#h" x="558.15" y="10.0"/>
<use href="#h" x="567.36" y="10.0"/>
<use href="#h" x="33.41" y="19.2"/>
<use href="#h" x="42.62" y="19.2"/>
<use href="#h" x="51.82" y="19.2"/>
<use href="#h" x="61.03" y="19.2"/>
<use href="#h" x="70.24" y="19.2"/>
<use href="#h" x="88.65" y="19.2"/>
<use href="#h" x="97.85" y="19.2"/>
<use href="#h" x="107.06" y="19.2"/>
<use href="#h" x="116.27" y="19.2"/>
<use href="#h" x="125.47" y="19.2"/>
<use href="#h" x="143.88" y="19.2"/>
<use href="#h" x="153.09" y="19.2"/>
<use href="#h" x="162.30" y="19.2"/>
<use href="#h" x="171.50" y="19.2"/>
<use href="#h" x="180.71" y="19.2"/>
<use href="#h" x="199.12" y="19.2"/>
<use href="#h" x="208.33" y="19.2"/>
<use href="#h" x="217.53" y="19.2"/>
<use href="#h" x="226.74" y="19.2"/>
<use href="#h" x="235.94" y="19.2"/>
<use href="#h" x="254.36" y="19.2"/>
<use href="#h" x="263.56" y="19.2"/>
<use href="#h" x="272.77" y="19.2"/>
<use href="#h" x="281.97" y="19.2"/>
<use href="#h" x="291.18" y="19.2"/>
<use href="#h" x="309.59" y="19.2"/>
<use href="#h" x="318.80" y="19.2"/>
<use href="#h" x="328.00" y="19.2"/>
<use href="#h" x="337.21" y="19.2"/>
<use href="#h" x="346.42" y="19.2"/>
<use href="#h" x="364.83" y="19.2"/>
<use href="#h" x="374.03" y="19.2"/>
<use href="#h" x="383.24" y="19.2"/>
<use href="#h" x="392.45" y="19.2"/>
<use href="#h" x="401.65" y="19.2"/>
<use href="#h" x="420.06" y="19.2"/>
<use href="#h" x="429.27" y="19.2"/>
<use href="#h" x="438.48" y="19.2"/>
<use href="#h" x="447.68" y="19.2"/>
<use href="#h" x="456.89" y="19.2"/>
<use href="#h" x="475.30" y="19.2"/>
<use href="#h" x="484.51" y="19.2"/>
<use href="#h" x="493.71" y="19.2"/>
<use href="#h" x="502.92" y="19.2"/>
<use href="#h" x="512.12" y="19.2"/>
<use href="#h" x="530.54" y="19.2"/>
<use href="#h" x="539.74" y="19.2"/>
<use href="#h" x="548.95" y="19.2"/>
<use href="#h" x="558.15" y="19.2"/>
<use href="#h" x="567.36" y="19.2"/>
<use href="#g" x="33.41" y="175.2"/>
<use href="#g" x="42.62" y="175.2"/>
<use href="#g" x="51.82" y="175.2"/>
<use href="#g" x="61.03" y="175.2"/>
<use href="#g" x="70.24" y="175.2"/>
<use href="#g" x="88.65" y="175.2"/>
<use href="#g" x="97.85" y="175.2"/>
<use href="#g" x="107.06" y="175.2"/>
<use href="#g" x="116.27" y="175.2"/>
<use href="#g" x="125.47" y="175.2"/>
<use href="#g" x="143.88" y="175.2"/>
<use href="#g" x="153.09" y="175.2"/>
<use href="#g" x="162.30" y="175.2"/>
<use href="#g" x="171.50" y="175.2"/>
<use href="#g" x="180.71" y="175.2"/>
<use href="#g" x="199.12" y="175.2"/>
<use href="#g" x="208.33" y="175.2"/>
<use href="#g" x="217.53" y="175.2"/>
<use href="#g" x="226.74" y="175.2"/>
<use href="#o" x="235.94" y="175.2"/>
<use href="#g" x="254.36" y="175.2"/>
<use href="#g" x="263.56" y="175.2"/>
<use href="#g" x="272.77" y="175.2"/>
<use href="#o" x="281.97" y="175.2"/>
<use href="#g" x="291.18" y="175.2"/>
<use href="#o" x="309.59" y="175.2"/>
<use href="#g" x="318.80" y="175.2"/>
<use href="#g" x="328.00" y="175.2"/>
<use href="#o" x="337.21" y="175.2"/>
<use href="#g" x="346.42" y="175.2"/>
<use href="#g" x="364.83" y="175.2"/>
<use href="#g" x="374.03" y="175.2"/>
<use href="#g" x="383.24" y="175.2"/>
<use href="#g" x="392.45" y="175.2"/>
<use href="#g" x="401.65" y="175.2"/>
<use href="#g" x="420.06" y="175.2"/>
<use href="#g" x="429.27" y="175.2"/>
<use href="#g" x="438.48" y="175.2"/>
<use href="#g" x="447.68" y="175.2"/>
<use href="#g" x="456.89" y="175.2"/>
<use href="#g" x="475.30" y="175.2"/>
<use href="#g" x="484.51" y="175.2"/>
<use href="#g" x="493.71" y="175.2"/>
<use href="#g" x="502.92" y="175.2"/>
<use href="#g" x="512.12" y="175.2"/>
<use href="#g" x="530.54" y="175.2"/>
<use href="#g" x="539.74" y="175.2"/>
<use href="#g" x="548.95" y="175.2"/>
<use href="#g" x="558.15" y="175.2"/>
<use href="#g" x="567.36" y="175.2"/>
<use href="#h" x="33.41" y="184.4"/>
<use href="#h" x="42.62" y="184.4"/>
<use href="#h" x="51.82" y="184.4"/>
<use href="#h" x="61.03" y="184.4"/>
<use href="#h" x="70.24" y="184.4"/>
<use href="#h" x="88.65" y="184.4"/>
<use href="#h" x="97.85" y="184.4"/>
<use href="#h" x="107.06" y="184.4"/>
<use href="#h" x="116.27" y="184.4"/>
<use href="#h" x="125.47" y="184.4"/>
<use href="#h" x="143.88" y="184.4"/>
<use href="#h" x="153.09" y="184.4"/>
<use href="#h" x="162.30" y="184.4"/>
<use href="#h" x="171.50" y="184.4"/>
<use href="#h" x="180.71" y="184.4"/>
<use href="#h" x="199.12" y="184.4"/>
<use href="#h" x="208.33" y="184.4"/>
<use href="#h" x="217.53" y="184.4"/>
<use href="#h" x="226.74" y="184.4"/>
<use href="#h" x="235.94" y="184.4"/>
<use href="#h" x="254.36" y="184.4"/>
<use href="#h" x="263.56" y="184.4"/>
<use href="#h" x="272.77" y="184.4"/>
<use href="#h" x="281.97" y="184.4"/>
<use href="#h" x="291.18" y="184.4"/>
<use href="#h" x="309.59" y="184.4"/>
<use href="#h" x="318.80" y="184.4"/>
<use href="#h" x="328.00" y="184.4"/>
<use href="#h" x="337.21" y="184.4"/>
<use href="#h" x="346.42" y="184.4"/>
<use href="#h" x="364.83" y="184.4"/>
<use href="#h" x="374.03" y="184.4"/>
<use href="#h" x="383.24" y="184.4"/>
<use href="#h" x="392.45" y="184.4"/>
<use href="#h" x="401.65" y="184.4"/>
<use href="#h" x="420.06" y="184.4"/>
<use href="#h" x="429.27" y="184.4"/>
<use href="#h" x="438.48" y="184.4"/>
<use href="#h" x="447.68" y="184.4"/>
<use href="#h" x="456.89" y="184.4"/>
<use href="#h" x="475.30" y="184.4"/>
<use href="#h" x="484.51" y="184.4"/>
<use href="#h" x="493.71" y="184.4"/>
<use href="#h" x="502.92" y="184.4"/>
<use href="#h" x="512.12" y="184.4"/>
<use href="#h" x="530.54" y="184.4"/>
<use href="#h" x="539.74" y="184.4"/>
<use href="#h" x="548.95" y="184.4"/>
<use href="#h" x="558.15" y="184.4"/>
<use href="#h" x="567.36" y="184.4"/>
</g>
<g id="arduino">
<path d="M142.9,249.5 H376.2 L379.6,253.4 V296.0 L388.9,305.2 V423.6 L379.5,433.0 V440.0 Q379.5,442.0 377.5,442.0 H142.9 Q140.3,442.0 140.3,439.4 V252.1 Q140.3,249.5 142.9,249.5 Z" fill="#0f7391"/>
<circle cx="195.5" cy="258.5" r="5.8" fill="#fff"/>
<circle cx="379.5" cy="313.8" r="5.8" fill="#fff"/>
<circle cx="379.5" cy="415" r="5.8" fill="#fff"/>
<circle cx="190.6" cy="433.3" r="5.8" fill="#fff"/>
<rect x="204.00" y="254.00" width="92.00" height="8.40" fill="#3b3b3b"/>
<rect x="206.55" y="256.15" width="4.1" height="4.1" fill="#141414"/>
<rect x="215.75" y="256.15" width="4.1" height="4.1" fill="#141414"/>
<rect x="224.95" y="256.15" width="4.1" height="4.1" fill="#141414"/>
<circle cx="236.20" cy="258.20" r="2.7" fill="#2f8f37"/>
<circle cx="236.20" cy="258.20" r="1.6" fill="#14421a"/>
<rect x="243.35" y="256.15" width="4.1" height="4.1" fill="#141414"/>
<rect x="252.55" y="256.15" width="4.1" height="4.1" fill="#141414"/>
<rect x="261.75" y="256.15" width="4.1" height="4.1" fill="#141414"/>
<rect x="270.95" y="256.15" width="4.1" height="4.1" fill="#141414"/>
<rect x="280.15" y="256.15" width="4.1" height="4.1" fill="#141414"/>
<rect x="289.35" y="256.15" width="4.1" height="4.1" fill="#141414"/>
<rect x="301.10" y="254.00" width="73.60" height="8.40" fill="#3b3b3b"/>
<rect x="303.65" y="256.15" width="4.1" height="4.1" fill="#141414"/>
<rect x="312.85" y="256.15" width="4.1" height="4.1" fill="#141414"/>
<rect x="322.05" y="256.15" width="4.1" height="4.1" fill="#141414"/>
<circle cx="333.30" cy="258.20" r="2.7" fill="#2f8f37"/>
<circle cx="333.30" cy="258.20" r="1.6" fill="#14421a"/>
<circle cx="342.50" cy="258.20" r="2.7" fill="#2f8f37"/>
<circle cx="342.50" cy="258.20" r="1.6" fill="#14421a"/>
<circle cx="351.70" cy="258.20" r="2.7" fill="#2f8f37"/>
<circle cx="351.70" cy="258.20" r="1.6" fill="#14421a"/>
<rect x="358.85" y="256.15" width="4.1" height="4.1" fill="#141414"/>
<rect x="368.05" y="256.15" width="4.1" height="4.1" fill="#141414"/>
<rect x="236.70" y="428.90" width="73.60" height="8.40" fill="#3b3b3b"/>
<rect x="239.25" y="431.05" width="4.1" height="4.1" fill="#141414"/>
<rect x="248.45" y="431.05" width="4.1" height="4.1" fill="#141414"/>
<rect x="257.65" y="431.05" width="4.1" height="4.1" fill="#141414"/>
<rect x="266.85" y="431.05" width="4.1" height="4.1" fill="#141414"/>
<rect x="276.05" y="431.05" width="4.1" height="4.1" fill="#141414"/>
<circle cx="287.30" cy="433.10" r="2.7" fill="#2a6a2c"/>
<circle cx="287.30" cy="433.10" r="1.9" fill="#0d4a12"/>
<circle cx="296.50" cy="433.10" r="2.7" fill="#2a6a2c"/>
<circle cx="296.50" cy="433.10" r="1.9" fill="#0d4a12"/>
<rect x="303.65" y="431.05" width="4.1" height="4.1" fill="#141414"/>
<rect x="319.90" y="428.90" width="54.90" height="8.40" fill="#3b3b3b"/>
<rect x="322.42" y="431.05" width="4.1" height="4.1" fill="#141414"/>
<rect x="331.57" y="431.05" width="4.1" height="4.1" fill="#141414"/>
<rect x="340.72" y="431.05" width="4.1" height="4.1" fill="#141414"/>
<rect x="349.87" y="431.05" width="4.1" height="4.1" fill="#141414"/>
<rect x="359.02" y="431.05" width="4.1" height="4.1" fill="#141414"/>
<rect x="368.17" y="431.05" width="4.1" height="4.1" fill="#141414"/>
<text class="pl" transform="translate(229.00,265.40) rotate(-90) scale(0.88,1)" text-anchor="end">AREF</text>
<text class="pl" transform="translate(238.20,265.40) rotate(-90) scale(0.88,1)" text-anchor="end">GND</text>
<text class="pl" transform="translate(247.40,265.40) rotate(-90) scale(0.88,1)" text-anchor="end">13</text>
<text class="pl" transform="translate(256.60,265.40) rotate(-90) scale(0.88,1)" text-anchor="end">12</text>
<text class="pl" transform="translate(265.80,265.40) rotate(-90) scale(0.88,1)" text-anchor="end">~<tspan dx="1.4">11</tspan></text>
<text class="pl" transform="translate(275.00,265.40) rotate(-90) scale(0.88,1)" text-anchor="end">~<tspan dx="1.4">10</tspan></text>
<text class="pl" transform="translate(284.20,265.40) rotate(-90) scale(0.88,1)" text-anchor="end">~<tspan dx="1.4">9</tspan></text>
<text class="pl" transform="translate(293.40,265.40) rotate(-90) scale(0.88,1)" text-anchor="end">8</text>
<text class="pl" transform="translate(307.70,265.40) rotate(-90) scale(0.88,1)" text-anchor="end">7</text>
<text class="pl" transform="translate(316.90,265.40) rotate(-90) scale(0.88,1)" text-anchor="end">~<tspan dx="1.4">6</tspan></text>
<text class="pl" transform="translate(326.10,265.40) rotate(-90) scale(0.88,1)" text-anchor="end">~<tspan dx="1.4">5</tspan></text>
<text class="pl" transform="translate(335.30,265.40) rotate(-90) scale(0.88,1)" text-anchor="end">4</text>
<text class="pl" transform="translate(344.50,265.40) rotate(-90) scale(0.88,1)" text-anchor="end">~<tspan dx="1.4">3</tspan></text>
<text class="pl" transform="translate(353.70,265.40) rotate(-90) scale(0.88,1)" text-anchor="end">2</text>
<text class="pl" transform="translate(362.90,0) rotate(-90)"><tspan x="-284.57" style="font-size:5.9px">T</tspan><tspan x="-281.17" style="font-size:5.9px">X</tspan><tspan x="-277.57" style="font-size:5.9px">0</tspan><tspan x="-272.98" style="font-size:6.6px">►</tspan><tspan x="-268.27" style="font-size:5.9px">1</tspan></text>
<text class="pl" transform="translate(372.10,0) rotate(-90)"><tspan x="-284.57" style="font-size:5.9px">R</tspan><tspan x="-281.17" style="font-size:5.9px">X</tspan><tspan x="-277.57" style="font-size:5.9px">0</tspan><tspan x="-272.98" style="font-size:6.6px">◄</tspan><tspan x="-268.27" style="font-size:5.9px">0</tspan></text>
<text class="pl" transform="translate(253.25,426.60) rotate(-90) scale(0.86,1)" text-anchor="start" style="font-size:5.4px">IOREF</text>
<text class="pl" transform="translate(260.95,426.60) rotate(-90) scale(0.86,1)" text-anchor="start" style="font-size:5.4px">RESET</text>
<text class="pl" transform="translate(270.65,426.60) rotate(-90) scale(0.86,1)" text-anchor="start" style="font-size:5.4px">3V3</text>
<text class="pl" transform="translate(279.85,426.60) rotate(-90) scale(0.86,1)" text-anchor="start" style="font-size:5.4px">5V</text>
<text class="pl" transform="translate(289.05,426.60) rotate(-90) scale(0.86,1)" text-anchor="start" style="font-size:5.4px">GND</text>
<text class="pl" transform="translate(298.25,426.60) rotate(-90) scale(0.86,1)" text-anchor="start" style="font-size:5.4px">GND</text>
<text class="pl" transform="translate(307.45,426.60) rotate(-90) scale(0.86,1)" text-anchor="start" style="font-size:5.4px">VIN</text>
<text class="pl" transform="translate(325.85,426.60) rotate(-90) scale(0.9,1)" text-anchor="start" style="font-size:5.4px">A0</text>
<text class="pl" transform="translate(335.07,426.60) rotate(-90) scale(0.9,1)" text-anchor="start" style="font-size:5.4px">A1</text>
<text class="pl" transform="translate(344.29,426.60) rotate(-90) scale(0.9,1)" text-anchor="start" style="font-size:5.4px">A2</text>
<text class="pl" transform="translate(353.51,426.60) rotate(-90) scale(0.9,1)" text-anchor="start" style="font-size:5.4px">A3</text>
<text class="pl" transform="translate(362.73,426.60) rotate(-90) scale(0.9,1)" text-anchor="start" style="font-size:5.4px">A4</text>
<text class="pl" transform="translate(371.95,426.60) rotate(-90) scale(0.9,1)" text-anchor="start" style="font-size:5.4px">A5</text>
<rect x="235.5" y="286.2" width="137" height="1.1" fill="#fff"/>
<text class="pl" x="352.6" y="284.4" text-anchor="end" style="font-size:5.4px;stroke-width:0.12px">DIGITAL (PWM=~)</text>
<rect x="264.5" y="409.8" width="46.4" height="1.0" fill="#fff"/>
<rect x="321.4" y="409.8" width="51.6" height="1.0" fill="#fff"/>
<text class="pl" x="310.2" y="416.8" text-anchor="end" style="font-size:5.4px;stroke-width:0.12px">POWER</text>
<text class="pl" x="372.2" y="416.8" text-anchor="end" style="font-size:5.4px;stroke-width:0.12px">ANALOG IN</text>
<g id="reset">
<rect x="146.2" y="253.4" width="4" height="2.6" fill="#e6e6e6"/>
<rect x="146.2" y="261.2" width="4" height="2.6" fill="#e6e6e6"/>
<rect x="146.2" y="269.0" width="4" height="2.6" fill="#e6e6e6"/>
<rect x="174" y="253.4" width="4.2" height="2.6" fill="#e6e6e6"/>
<rect x="174" y="269.0" width="4.2" height="2.6" fill="#e6e6e6"/>
<rect x="149.2" y="251.2" width="25.4" height="21.8" fill="#d6d6d6"/>
<circle cx="161.7" cy="262.0" r="6.4" fill="#992222"/>
<text class="pl" x="162.0" y="279.6" text-anchor="middle" style="font-size:6.5px;stroke-width:0.12px">RESET</text>
</g>
<rect x="193.00" y="266.2" width="8.0" height="17.8" rx="1.4" fill="#2b2b2b"/>
<rect x="195.30" y="269.20" width="3.4" height="3.4" fill="#b09e6c"/>
<rect x="196.20" y="270.10" width="1.6" height="1.6" fill="#7d6c42"/>
<rect x="195.30" y="278.10" width="3.4" height="3.4" fill="#b09e6c"/>
<rect x="196.20" y="279.00" width="1.6" height="1.6" fill="#7d6c42"/>
<rect x="202.10" y="266.2" width="8.0" height="17.8" rx="1.4" fill="#2b2b2b"/>
<rect x="204.40" y="269.20" width="3.4" height="3.4" fill="#b09e6c"/>
<rect x="205.30" y="270.10" width="1.6" height="1.6" fill="#7d6c42"/>
<rect x="204.40" y="278.10" width="3.4" height="3.4" fill="#b09e6c"/>
<rect x="205.30" y="279.00" width="1.6" height="1.6" fill="#7d6c42"/>
<rect x="211.60" y="266.2" width="8.0" height="17.8" rx="1.4" fill="#2b2b2b"/>
<rect x="213.90" y="269.20" width="3.4" height="3.4" fill="#b09e6c"/>
<rect x="214.80" y="270.10" width="1.6" height="1.6" fill="#7d6c42"/>
<rect x="213.90" y="278.10" width="3.4" height="3.4" fill="#b09e6c"/>
<rect x="214.80" y="279.00" width="1.6" height="1.6" fill="#7d6c42"/>
<circle cx="220.4" cy="266.0" r="1.2" fill="#fff"/>
<text class="pl" x="203.2" y="290.4" text-anchor="middle" style="font-size:6.3px;stroke-width:0.12px">ICSP2</text>
<rect x="366.7" y="327.70" width="17.6" height="8.2" rx="1.2" fill="#2b2b2b"/>
<rect x="369.40" y="330.10" width="3.4" height="3.4" fill="#b09e6c"/>
<rect x="370.30" y="331.00" width="1.6" height="1.6" fill="#7d6c42"/>
<rect x="378.30" y="330.10" width="3.4" height="3.4" fill="#b09e6c"/>
<rect x="379.20" y="331.00" width="1.6" height="1.6" fill="#7d6c42"/>
<rect x="366.7" y="336.80" width="17.6" height="8.2" rx="1.2" fill="#2b2b2b"/>
<rect x="369.40" y="339.20" width="3.4" height="3.4" fill="#b09e6c"/>
<rect x="370.30" y="340.10" width="1.6" height="1.6" fill="#7d6c42"/>
<rect x="378.30" y="339.20" width="3.4" height="3.4" fill="#b09e6c"/>
<rect x="379.20" y="340.10" width="1.6" height="1.6" fill="#7d6c42"/>
<rect x="366.7" y="345.90" width="17.6" height="8.2" rx="1.2" fill="#2b2b2b"/>
<rect x="369.40" y="348.30" width="3.4" height="3.4" fill="#b09e6c"/>
<rect x="370.30" y="349.20" width="1.6" height="1.6" fill="#7d6c42"/>
<rect x="378.30" y="348.30" width="3.4" height="3.4" fill="#b09e6c"/>
<rect x="379.20" y="349.20" width="1.6" height="1.6" fill="#7d6c42"/>
<text class="pl" transform="translate(365.00,354.80) rotate(-90) scale(0.88,1)" text-anchor="start">ICSP</text>
<text class="pl" x="363.4" y="331.6" text-anchor="middle">1</text>
<rect x="141.0" y="278.8" width="5.0" height="51.4" fill="#b2b2b2"/>
<rect x="117.6" y="284.0" width="56.6" height="40.9" fill="#b9b9b9"/>
<rect x="117.6" y="284.0" width="9.2" height="40.9" fill="#a3a3a3"/>
<rect x="117.6" y="284.0" width="56.6" height="3.4" fill="#000" opacity="0.17"/>
<rect x="117.6" y="321.8" width="56.6" height="3.1" fill="#000" opacity="0.09"/>
<rect x="203.7" y="308.0" width="17.8" height="17.8" fill="#2d2d2d"/>
<rect x="236.2" y="290.6" width="9.4" height="5.0" fill="#ecdcb6"/>
<rect x="237.5" y="291.6" width="6.8" height="3.0" fill="#f8f4ea"/>
<rect x="236.2" y="307.4" width="9.4" height="5.0" fill="#ecdcb6"/>
<rect x="237.5" y="308.4" width="6.8" height="3.0" fill="#f8f4ea"/>
<rect x="236.2" y="315.6" width="9.4" height="5.0" fill="#ecdcb6"/>
<rect x="237.5" y="316.6" width="6.8" height="3.0" fill="#f8f4ea"/>
<rect x="350.4" y="307.8" width="9.4" height="5.0" fill="#ecdcb6"/>
<rect x="351.7" y="308.8" width="6.8" height="3.0" fill="#f8f4ea"/>
<text class="pl" x="234.2" y="295.4" text-anchor="end" style="font-size:6.4px;stroke-width:0.12px">L</text>
<text class="pl" x="234.2" y="312.2" text-anchor="end" style="font-size:6.4px;stroke-width:0.12px">TX</text>
<text class="pl" x="234.2" y="320.4" text-anchor="end" style="font-size:6.4px;stroke-width:0.12px">RX</text>
<text class="pl" x="362.0" y="312.3" style="font-size:6.0px;letter-spacing:0.7px;stroke-width:0.12px">ON</text>
<g id="logo" fill="none" stroke="#fff">
<path d="M278.45,299.9 C274.4,293.9 271.4,292.55 266.6,292.55 C261.9,292.55 258.35,295.7 258.35,299.9 C258.35,304.1 261.9,307.25 266.6,307.25 C271.4,307.25 274.4,305.9 278.45,299.9 C282.5,293.9 285.5,292.55 290.3,292.55 C295.0,292.55 298.55,295.7 298.55,299.9 C298.55,304.1 295.0,307.25 290.3,307.25 C285.5,307.25 282.5,305.9 278.45,299.9 Z" stroke-width="3.5"/>
<path d="M264.6,299.9 H270.4 M286.5,299.9 H292.5 M289.5,296.9 V302.9" stroke-width="1.7"/>
<rect x="303.3" y="290.1" width="43.6" height="20.6" rx="10.3" stroke-width="0.6"/>
<rect x="304.5" y="291.3" width="41.2" height="18.2" rx="9.1" stroke-width="1.05"/>
</g>
<text x="0" y="0" transform="translate(326.3,306.25) scale(0.96,1)" text-anchor="middle" fill="#fff" stroke="#0f7391" stroke-width="0.12" class="sans" style="font-size:16.3px">UNO</text>
<text class="mono" x="257.0" y="319.7" fill="#fff" stroke="#fff" stroke-width="0.15" style="font-size:8.8px;letter-spacing:-0.1px">Arduino</text>
<text class="mono" x="295.2" y="316.2" fill="#fff" style="font-size:3.2px;font-weight:bold">TM</text>
<rect x="240.8" y="373.2" width="135" height="20.2" fill="#2d2d2d"/>
<rect x="155.0" y="373.8" width="8" height="12.6" fill="#a9a9a9"/>
<rect x="174" y="369.2" width="7.2" height="4.4" fill="#a9a9a9"/>
<rect x="174" y="377.6" width="7.2" height="4.4" fill="#a9a9a9"/>
<rect x="174" y="385.8" width="7.2" height="4.4" fill="#a9a9a9"/>
<rect x="162.0" y="367.0" width="13.0" height="24.4" fill="#2e2e2e"/>
<rect x="180.6" y="407.6" width="3.6" height="13.4" rx="1.6" fill="#4a4a4a"/>
<rect x="143.6" y="399.6" width="38.4" height="28.8" fill="#262626"/>
<path d="M144,403.4 H166 L174.5,407.2 H181 V421.0 H174.5 L166,424.8 H144 Z" fill="#303030"/>
<rect x="134.1" y="398.3" width="9.9" height="31.6" fill="#1d1d1d"/>
<path d="M198.30,397.9 H216.10 L218.90,400.7 V420.7 H195.50 V400.7 Z" fill="#383838"/>
<circle cx="207.2" cy="409.0" r="11.1" fill="#ededed"/>
<path d="M198.20,415.5 A11.1,11.1 0 0 0 216.20,415.5 Z" fill="#111111"/>
<rect x="206.75" y="396.29999999999995" width="0.9" height="1.8" fill="#d8d8d8"/>
<rect x="206.75" y="420.5" width="0.9" height="1.8" fill="#d8d8d8"/>
<path d="M224.10,397.9 H241.90 L244.70,400.7 V420.7 H221.30 V400.7 Z" fill="#383838"/>
<circle cx="233.0" cy="409.0" r="11.1" fill="#ededed"/>
<path d="M224.00,415.5 A11.1,11.1 0 0 0 242.00,415.5 Z" fill="#111111"/>
<rect x="232.55" y="396.29999999999995" width="0.9" height="1.8" fill="#d8d8d8"/>
<rect x="232.55" y="420.5" width="0.9" height="1.8" fill="#d8d8d8"/>
</g>
<g id="parts">
<path d="M281.97,138.8 V175.3" stroke="#8b8b8b" stroke-width="2.5" fill="none"/>
<path d="M281.97,138.8 V141.2 M281.97,173.4 V175.3" stroke="#79c07b" stroke-width="2.6" stroke-linecap="round" fill="none"/>
<circle cx="281.97" cy="138.9" r="2.3" fill="#79c07b"/><circle cx="281.97" cy="175.3" r="2.3" fill="#79c07b"/>
<path d="M278.82,145.1 H285.12 Q286.32,145.1 286.32,146.4 V150.6 Q286.32,152 285.42,152.6 V160.6 Q286.32,161.2 286.32,162.6 V167.0 Q286.32,168.3 285.12,168.3 H278.82 Q277.62,168.3 277.62,167.0 V162.6 Q277.62,161.2 278.52,160.6 V152.6 Q277.62,152 277.62,150.6 V146.4 Q277.62,145.1 278.82,145.1 Z" fill="url(#resg)"/>
<rect x="277.62" y="148.7" width="8.7" height="2.5" fill="#cf1414"/>
<rect x="278.52" y="153.6" width="6.9" height="2.3" fill="#cf1414"/>
<rect x="278.52" y="158.2" width="6.9" height="2.4" fill="#8e4a12"/>
<rect x="277.62" y="165.3" width="8.7" height="2.0" fill="#d3b04a" opacity="0.75"/>
<path d="M309.59,138.8 V175.3" stroke="#8b8b8b" stroke-width="2.5" fill="none"/>
<path d="M309.59,138.8 V141.2 M309.59,173.4 V175.3" stroke="#79c07b" stroke-width="2.6" stroke-linecap="round" fill="none"/>
<circle cx="309.59" cy="138.9" r="2.3" fill="#79c07b"/><circle cx="309.59" cy="175.3" r="2.3" fill="#79c07b"/>
<path d="M306.44,145.1 H312.74 Q313.94,145.1 313.94,146.4 V150.6 Q313.94,152 313.04,152.6 V160.6 Q313.94,161.2 313.94,162.6 V167.0 Q313.94,168.3 312.74,168.3 H306.44 Q305.24,168.3 305.24,167.0 V162.6 Q305.24,161.2 306.14,160.6 V152.6 Q305.24,152 305.24,150.6 V146.4 Q305.24,145.1 306.44,145.1 Z" fill="url(#resg)"/>
<rect x="305.24" y="148.7" width="8.7" height="2.5" fill="#cf1414"/>
<rect x="306.14" y="153.6" width="6.9" height="2.3" fill="#cf1414"/>
<rect x="306.14" y="158.2" width="6.9" height="2.4" fill="#8e4a12"/>
<rect x="305.24" y="165.3" width="8.7" height="2.0" fill="#d3b04a" opacity="0.75"/>
<path d="M337.21,138.8 V175.3" stroke="#8b8b8b" stroke-width="2.5" fill="none"/>
<path d="M337.21,138.8 V141.2 M337.21,173.4 V175.3" stroke="#79c07b" stroke-width="2.6" stroke-linecap="round" fill="none"/>
<circle cx="337.21" cy="138.9" r="2.3" fill="#79c07b"/><circle cx="337.21" cy="175.3" r="2.3" fill="#79c07b"/>
<path d="M334.06,145.1 H340.36 Q341.56,145.1 341.56,146.4 V150.6 Q341.56,152 340.66,152.6 V160.6 Q341.56,161.2 341.56,162.6 V167.0 Q341.56,168.3 340.36,168.3 H334.06 Q332.86,168.3 332.86,167.0 V162.6 Q332.86,161.2 333.76,160.6 V152.6 Q332.86,152 332.86,150.6 V146.4 Q332.86,145.1 334.06,145.1 Z" fill="url(#resg)"/>
<rect x="332.86" y="148.7" width="8.7" height="2.5" fill="#cf1414"/>
<rect x="333.76" y="153.6" width="6.9" height="2.3" fill="#cf1414"/>
<rect x="333.76" y="158.2" width="6.9" height="2.4" fill="#8e4a12"/>
<rect x="332.86" y="165.3" width="8.7" height="2.0" fill="#d3b04a" opacity="0.75"/>
<path d="M281.67,80 V121.0" stroke="#8b8b8b" stroke-width="2.5" fill="none"/>
<path d="M287.57,80 L291.18,89.4 V121.0" stroke="#8b8b8b" stroke-width="2.5" fill="none" stroke-linejoin="round"/>
<path d="M281.67,112.6 V121.0 M291.18,112.6 V121.0" stroke="#79c07b" stroke-width="2.5" fill="none" stroke-linecap="round"/>
<circle cx="281.67" cy="120.6" r="2.3" fill="#79c07b"/><circle cx="291.18" cy="120.6" r="2.3" fill="#79c07b"/>
<path d="M289.37,68.0 H294.17 C296.97,68.6 296.97,78.0 293.57,79.8 L289.37,81 Z" fill="#d81f1f"/>
<path d="M276.37,77.2 V60.5 A9,9 0 0 1 294.37,60.5 V77.0 C293.97,80.4 289.37,82 285.37,82 C281.37,82 276.77,80.4 276.37,77.2 Z" fill="url(#ledg)"/>
<rect x="279.77" y="63.0" width="12.4" height="13.6" fill="#ff7c7c" opacity="0.22"/>
<rect x="280.17" y="62.9" width="6.0" height="4.6" fill="#c02222"/>
<path d="M285.97,67.3 L291.27,63.0 V71.9" stroke="#bb2a2a" stroke-width="1.1" fill="none"/>
<path d="M285.97,63.2 H291.27 L285.97,67.1 Z" fill="#e03c3c" opacity="0.55"/>
<path d="M278.47,62.2 Q278.67,57 281.77,55.2" stroke="#ff9f9f" stroke-width="1.0" fill="none" stroke-linecap="round"/>
<path d="M286.97,53.8 Q288.97,54.2 290.17,55.4" stroke="#ff9f9f" stroke-width="0.9" fill="none" stroke-linecap="round"/>
<path d="M309.29,80 V121.0" stroke="#8b8b8b" stroke-width="2.5" fill="none"/>
<path d="M315.19,80 L318.80,89.4 V121.0" stroke="#8b8b8b" stroke-width="2.5" fill="none" stroke-linejoin="round"/>
<path d="M309.29,112.6 V121.0 M318.80,112.6 V121.0" stroke="#79c07b" stroke-width="2.5" fill="none" stroke-linecap="round"/>
<circle cx="309.29" cy="120.6" r="2.3" fill="#79c07b"/><circle cx="318.80" cy="120.6" r="2.3" fill="#79c07b"/>
<path d="M316.99,68.0 H321.79 C324.59,68.6 324.59,78.0 321.19,79.8 L316.99,81 Z" fill="#d81f1f"/>
<path d="M303.99,77.2 V60.5 A9,9 0 0 1 321.99,60.5 V77.0 C321.59,80.4 316.99,82 312.99,82 C308.99,82 304.39,80.4 303.99,77.2 Z" fill="url(#ledg)"/>
<rect x="307.39" y="63.0" width="12.4" height="13.6" fill="#ff7c7c" opacity="0.22"/>
<rect x="307.79" y="62.9" width="6.0" height="4.6" fill="#c02222"/>
<path d="M313.59,67.3 L318.89,63.0 V71.9" stroke="#bb2a2a" stroke-width="1.1" fill="none"/>
<path d="M313.59,63.2 H318.89 L313.59,67.1 Z" fill="#e03c3c" opacity="0.55"/>
<path d="M306.09,62.2 Q306.29,57 309.39,55.2" stroke="#ff9f9f" stroke-width="1.0" fill="none" stroke-linecap="round"/>
<path d="M314.59,53.8 Q316.59,54.2 317.79,55.4" stroke="#ff9f9f" stroke-width="0.9" fill="none" stroke-linecap="round"/>
<path d="M336.91,80 V121.0" stroke="#8b8b8b" stroke-width="2.5" fill="none"/>
<path d="M342.81,80 L346.42,89.4 V121.0" stroke="#8b8b8b" stroke-width="2.5" fill="none" stroke-linejoin="round"/>
<path d="M336.91,112.6 V121.0 M346.42,112.6 V121.0" stroke="#79c07b" stroke-width="2.5" fill="none" stroke-linecap="round"/>
<circle cx="336.91" cy="120.6" r="2.3" fill="#79c07b"/><circle cx="346.42" cy="120.6" r="2.3" fill="#79c07b"/>
<path d="M344.61,68.0 H349.41 C352.21,68.6 352.21,78.0 348.81,79.8 L344.61,81 Z" fill="#d81f1f"/>
<path d="M331.61,77.2 V60.5 A9,9 0 0 1 349.61,60.5 V77.0 C349.21,80.4 344.61,82 340.61,82 C336.61,82 332.01,80.4 331.61,77.2 Z" fill="url(#ledg)"/>
<rect x="335.01" y="63.0" width="12.4" height="13.6" fill="#ff7c7c" opacity="0.22"/>
<rect x="335.41" y="62.9" width="6.0" height="4.6" fill="#c02222"/>
<path d="M341.21,67.3 L346.51,63.0 V71.9" stroke="#bb2a2a" stroke-width="1.1" fill="none"/>
<path d="M341.21,63.2 H346.51 L341.21,67.1 Z" fill="#e03c3c" opacity="0.55"/>
<path d="M333.71,62.2 Q333.91,57 337.01,55.2" stroke="#ff9f9f" stroke-width="1.0" fill="none" stroke-linecap="round"/>
<path d="M342.21,53.8 Q344.21,54.2 345.41,55.4" stroke="#ff9f9f" stroke-width="0.9" fill="none" stroke-linecap="round"/>
</g>
<g id="wires" fill="none" stroke-linecap="round">
<path d="M235.94,175.3 V258.2" stroke="#3a3a3a" stroke-width="3.8"/>
<path d="M235.94,175.3 V258.2" stroke="#141414" stroke-width="2.6"/>
<circle cx="235.94" cy="175.4" r="2.7" fill="#2f9a35" stroke="none"/><circle cx="235.94" cy="175.5" r="1.8" fill="#154f1a" stroke="none"/>
<circle cx="236.2" cy="258.3" r="2.8" fill="#27882f" stroke="none"/><circle cx="236.2" cy="258.3" r="1.9" fill="#175e1d" stroke="none"/>
<path d="M291.18,148.0 L333.3,258.2" stroke="#1f58ae" stroke-width="4.0"/>
<path d="M291.18,148.0 L333.3,258.2" stroke="#3686e0" stroke-width="2.5"/>
<circle cx="291.18" cy="148.0" r="1.75" fill="#2a9a8a" stroke="none"/>
<circle cx="333.3" cy="258.2" r="1.75" fill="#2a9a8a" stroke="none"/>
<path d="M318.80,148.0 L342.5,258.2" stroke="#1f58ae" stroke-width="4.0"/>
<path d="M318.80,148.0 L342.5,258.2" stroke="#3686e0" stroke-width="2.5"/>
<circle cx="318.80" cy="148.0" r="1.75" fill="#2a9a8a" stroke="none"/>
<circle cx="342.5" cy="258.2" r="1.75" fill="#2a9a8a" stroke="none"/>
<path d="M346.42,148.0 L351.7,258.2" stroke="#1f58ae" stroke-width="4.0"/>
<path d="M346.42,148.0 L351.7,258.2" stroke="#3686e0" stroke-width="2.5"/>
<circle cx="346.42" cy="148.0" r="1.75" fill="#2a9a8a" stroke="none"/>
<circle cx="351.7" cy="258.2" r="1.75" fill="#2a9a8a" stroke="none"/>
</g>
<text x="601.2" y="461.8" text-anchor="end" fill="#8c8c8c" stroke="#8c8c8c" stroke-width="0.3" style="font-family:'DejaVu Sans','Liberation Sans',sans-serif;font-size:13.8px;letter-spacing:1.42px">fritzing</text>
</svg>
</body></html>
